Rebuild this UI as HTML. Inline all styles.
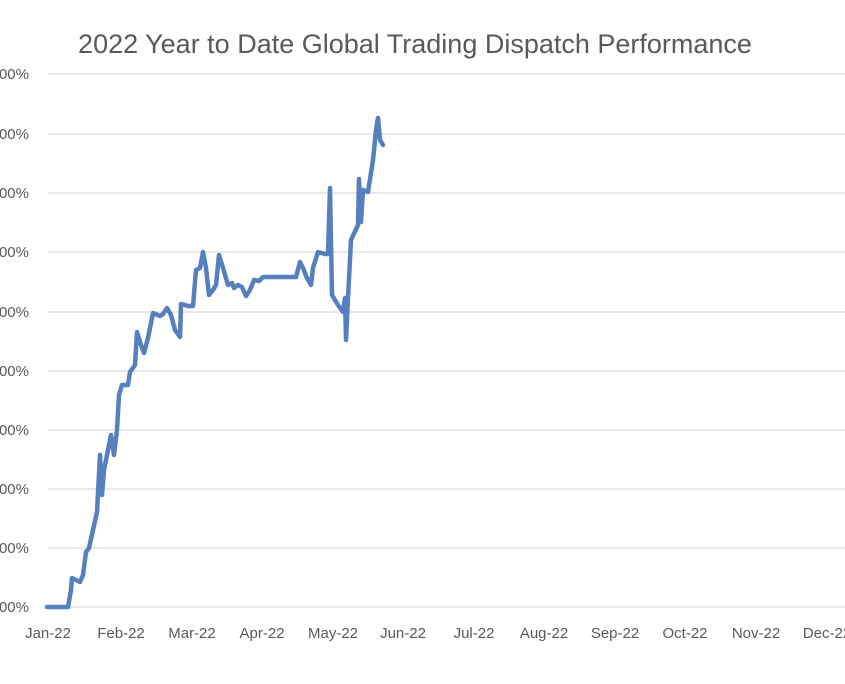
<!DOCTYPE html>
<html><head><meta charset="utf-8"><style>
html,body{margin:0;padding:0;background:#fff;}
svg{display:block;font-family:"Liberation Sans",sans-serif;}
</style></head><body>
<svg width="845" height="684" viewBox="0 0 845 684" xmlns="http://www.w3.org/2000/svg">
<rect width="845" height="684" fill="#fff"/>
<text x="415" y="53" font-size="27" fill="#595959" text-anchor="middle">2022 Year to Date Global Trading Dispatch Performance</text>
<g stroke="#d9d9d9" stroke-width="1.3">
<line x1="48" x2="845" y1="74" y2="74"/>
<line x1="48" x2="845" y1="134" y2="134"/>
<line x1="48" x2="845" y1="193" y2="193"/>
<line x1="48" x2="845" y1="252" y2="252"/>
<line x1="48" x2="845" y1="312" y2="312"/>
<line x1="48" x2="845" y1="371" y2="371"/>
<line x1="48" x2="845" y1="430" y2="430"/>
<line x1="48" x2="845" y1="489" y2="489"/>
<line x1="48" x2="845" y1="548" y2="548"/>
<line x1="48" x2="845" y1="607" y2="607"/>
</g>
<g font-size="15" fill="#595959" text-anchor="end">
<text x="29" y="79">00%</text><text x="29" y="139">00%</text><text x="29" y="198">00%</text>
<text x="29" y="257">00%</text><text x="29" y="317">00%</text><text x="29" y="376">00%</text>
<text x="29" y="435">00%</text><text x="29" y="494">00%</text><text x="29" y="553">00%</text>
<text x="29" y="612">00%</text>
</g>
<g font-size="15" fill="#595959" text-anchor="middle">
<text x="48" y="638">Jan-22</text><text x="121" y="638">Feb-22</text><text x="192" y="638">Mar-22</text>
<text x="262" y="638">Apr-22</text><text x="333" y="638">May-22</text><text x="403" y="638">Jun-22</text>
<text x="474" y="638">Jul-22</text><text x="544" y="638">Aug-22</text><text x="615" y="638">Sep-22</text>
<text x="685" y="638">Oct-22</text><text x="756" y="638">Nov-22</text><text x="827" y="638">Dec-22</text>
</g>
<polyline fill="none" stroke="#5580bd" stroke-width="4.5" stroke-linejoin="round" stroke-linecap="round" points="47,607 68,607 71,590 72,578 80,582 83,575 86,552 89,548 93,530 97,512 100,455 102,495 104,470 107,455 111,435 114,455 117,430 119,395 122,385 128,385 130,372 135,365 137,332 141,345 144,353 148,338 153,313 160,316 163,314 167,308 171,315 175,330 180,337 181,304 185,305 188,306 193,306 196,270 200,268 203,252 206,268 209,295 213,290 216,285 219,255 223,268 228,285 232,283 234,288 238,285 242,287 246,296 250,290 254,280 259,281 263,277 296,277 300,262 303,268 307,278 311,285 313,268 318,252 325,254 328,254 330,188 332,295 338,305 343,312 345,298 346,340 348,298 351,240 358,225 359,179 361,222 363,190 368,192 373,160 376,130 378,118 380,140 383,145"/>
</svg>
</body></html>
